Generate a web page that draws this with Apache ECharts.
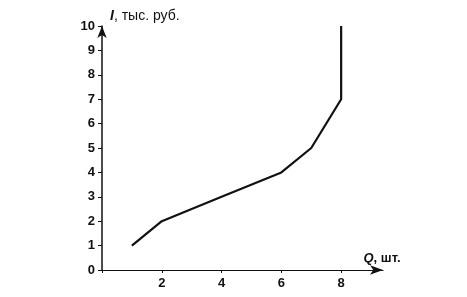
<!DOCTYPE html>
<html><head><meta charset="utf-8">
<script src="https://cdn.jsdelivr.net/npm/echarts@6/dist/echarts.min.js"></script>
<style>html,body{margin:0;padding:0;background:#fff}#c{width:467px;height:297px}</style>
</head><body><div id="c"></div>
<script>
const qValues = [1, 2, 4, 6, 7, 8, 8];
const iValues = [1, 2, 3, 4, 5, 7, 10];
const xTicks = [2, 4, 6, 8];
const yTicks = [0, 1, 2, 3, 4, 5, 6, 7, 8, 9, 10];
const xName = 'Q';
const xUnit = ', шт.';
const yName = 'I';
const yUnit = ', тыс. руб.';

const chart = echarts.init(document.getElementById('c'));
const font = 'Liberation Sans, Arial, sans-serif';
chart.setOption({
  animation: false,
  backgroundColor: '#fff',
  grid: {left: 102, right: 84, top: 26, bottom: 27},
  xAxis: {
    type: 'value', min: 0, max: 9.4, interval: 2,
    splitLine: {show: false},
    axisLine: {onZero: false, symbol: ['none', 'arrow'], symbolSize: [7, 13], lineStyle: {color: '#111', width: 1.2}},
    axisTick: {show: true, inside: false, length: 3, lineStyle: {color: '#111'}},
    axisLabel: {
      color: '#111', fontFamily: font, fontSize: 13, fontWeight: 'bold', margin: 7,
      showMaxLabel: false,
      formatter: v => xTicks.includes(v) ? String(v) : ''
    },
    name: '{i|' + xName + '}{n|' + xUnit + '}', nameLocation: 'end', nameGap: -1,
    nameTextStyle: {
      align: 'center', verticalAlign: 'bottom', padding: [0, 0, 5, 0],
      rich: {
        i: {fontFamily: font, fontSize: 13, fontStyle: 'italic', fontWeight: 'bold', color: '#111'},
        n: {fontFamily: font, fontSize: 13, fontWeight: 'bold', color: '#111'}
      }
    }
  },
  yAxis: {
    type: 'value', min: 0, max: 10, interval: 1,
    splitLine: {show: false},
    axisLine: {onZero: false, symbol: ['none', 'arrow'], symbolSize: [7, 12], lineStyle: {color: '#111', width: 1.5}},
    axisTick: {show: true, length: 4, lineStyle: {color: '#111'}},
    axisLabel: {
      color: '#111', fontFamily: font, fontSize: 13, fontWeight: 'bold', margin: 7,
      formatter: v => yTicks.includes(v) ? String(v) : ''
    },
    name: '{i|' + yName + '}{n|' + yUnit + '}', nameLocation: 'end', nameGap: 3,
    nameTextStyle: {
      align: 'left', verticalAlign: 'bottom', padding: [0, 0, 0, 8],
      rich: {
        i: {fontFamily: font, fontSize: 14, fontStyle: 'italic', fontWeight: 'bold', color: '#111'},
        n: {fontFamily: font, fontSize: 14, color: '#111'}
      }
    }
  },
  series: [{
    type: 'line',
    data: qValues.map((q, k) => [q, iValues[k]]),
    showSymbol: false,
    lineStyle: {color: '#111', width: 2.2},
    z: 3
  }]
});
</script></body></html>
